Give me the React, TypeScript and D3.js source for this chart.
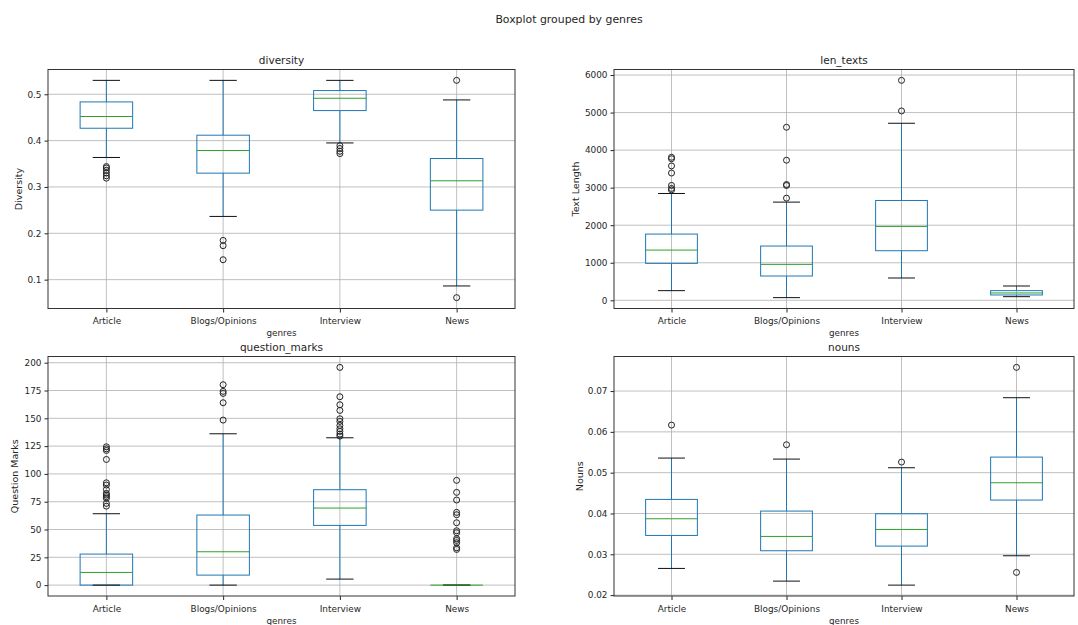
import * as d3 from "d3";
import { useEffect, useRef } from "react";

const genres = ["Article", "Blogs/Opinions", "Interview", "News"];

// per genre: [low whisker, q1, median, q3, high whisker]
const diversityStats = [
  [0.3636, 0.4267, 0.452, 0.4835, 0.53],
  [0.2364, 0.3298, 0.3786, 0.4117, 0.53],
  [0.395, 0.4648, 0.4914, 0.508, 0.53],
  [0.0864, 0.25, 0.3133, 0.3614, 0.4878],
];
const diversityFliers = [
  [0.344, 0.341, 0.336, 0.33, 0.324, 0.319],
  [0.1847, 0.1733, 0.143],
  [0.389, 0.383, 0.377, 0.372],
  [0.53, 0.0612],
];
const diversityTicks = [0.1, 0.2, 0.3, 0.4, 0.5];

const lenStats = [
  [257, 984, 1338, 1764, 2845],
  [71, 647, 957, 1445, 2615],
  [594, 1321, 1968, 2659, 4715],
  [97, 142, 195, 257, 381],
];
const lenFliers = [
  [3810, 3770, 3580, 3390, 3060, 2980, 2940],
  [4609, 3731, 3084, 3058, 2721],
  [5043, 5858],
  [],
];
const lenTicks = [0, 1000, 2000, 3000, 4000, 5000, 6000];

const qmStats = [
  [0, 0, 11.4, 27.9, 64.2],
  [0, 9.0, 30.0, 63.0, 136.1],
  [5.4, 53.7, 69.3, 85.8, 132.5],
  [0, 0, 0, 0, 0],
];
const qmFliers = [
  [124.4, 122.6, 121.1, 113, 92, 90, 86, 82.5, 81, 79.5, 78, 73.5, 71],
  [180.2, 174.2, 172.4, 164.0, 148.4],
  [195.8, 169.4, 162.2, 157.1, 149.6, 147.2, 143.6, 140.6, 138.2, 135.8, 134],
  [94.2, 83.4, 76.5, 65.4, 63.3, 56.1, 48.9, 47.1, 41.7, 40.2, 38.1, 33.6, 32.1],
];
const qmTicks = [0, 25, 50, 75, 100, 125, 150, 175, 200];

const nounStats = [
  [0.02654, 0.03462, 0.03871, 0.04345, 0.05358],
  [0.02343, 0.03087, 0.03438, 0.04059, 0.05333],
  [0.02245, 0.03201, 0.03609, 0.03993, 0.05121],
  [0.02964, 0.04329, 0.04753, 0.05382, 0.06837],
];
const nounFliers = [[0.06167], [0.05685], [0.0526], [0.0758, 0.02556]];
const nounTicks = [0.02, 0.03, 0.04, 0.05, 0.06, 0.07];

const FONT = "DejaVu Sans, sans-serif";
const TEXT = "#262626";

const panels = [
  { title: "diversity", ylabel: "Diversity", stats: diversityStats, fliers: diversityFliers, ticks: diversityTicks, fmt: d3.format(".1f"), x0: 48, x1: 515, y0: 69.5, y1: 308.5, ylx: 19 },
  { title: "len_texts", ylabel: "Text Length", stats: lenStats, fliers: lenFliers, ticks: lenTicks, fmt: d3.format("d"), x0: 614, x1: 1074, y0: 69.5, y1: 308.5, ylx: 576 },
  { title: "question_marks", ylabel: "Question Marks", stats: qmStats, fliers: qmFliers, ticks: qmTicks, fmt: d3.format("d"), x0: 48, x1: 515, y0: 356.5, y1: 596, ylx: 15 },
  { title: "nouns", ylabel: "Nouns", stats: nounStats, fliers: nounFliers, ticks: nounTicks, fmt: d3.format(".2f"), x0: 614, x1: 1074, y0: 356.5, y1: 596, ylx: 580 },
];

const App = () => {
  const ref = useRef<SVGSVGElement>(null);

  useEffect(() => {
    const svg = d3.select(ref.current);
    svg.selectAll("*").remove();

    svg.append("text")
      .attr("x", 569).attr("y", 23)
      .attr("text-anchor", "middle")
      .attr("font-family", FONT).attr("font-size", 10.9).attr("fill", TEXT)
      .text("Boxplot grouped by genres");

    panels.forEach(p => {
      const all = p.stats.flat().concat(p.fliers.flat());
      const lo = d3.min(all) as number;
      const hi = d3.max(all) as number;
      const pad = (hi - lo) * 0.05;

      const x = d3.scalePoint<string>().domain(genres).range([p.x0, p.x1]).padding(0.5);
      const y = d3.scaleLinear().domain([lo - pad, hi + pad]).range([p.y1, p.y0]);
      const g = svg.append("g");

      // grid
      g.selectAll(".hgrid").data(p.ticks).enter().append("line")
        .attr("x1", p.x0).attr("x2", p.x1)
        .attr("y1", d => y(d)).attr("y2", d => y(d))
        .attr("stroke", "#b0b0b0").attr("stroke-width", 0.8);
      g.selectAll(".vgrid").data(genres).enter().append("line")
        .attr("x1", d => x(d)!).attr("x2", d => x(d)!)
        .attr("y1", p.y0).attr("y2", p.y1)
        .attr("stroke", "#b0b0b0").attr("stroke-width", 0.8);

      // axes
      const ya = g.append("g").attr("transform", `translate(${p.x0},0)`)
        .call(d3.axisLeft(y).tickValues(p.ticks).tickSize(3.5).tickPadding(3).tickFormat(d => p.fmt(d as number)));
      const xa = g.append("g").attr("transform", `translate(0,${p.y1})`)
        .call(d3.axisBottom(x).tickSize(4).tickPadding(5.3));
      [ya, xa].forEach(a => {
        a.select(".domain").remove();
        a.selectAll("text").attr("font-family", FONT).attr("font-size", 8.9).attr("fill", TEXT);
        a.selectAll("line").attr("stroke", TEXT);
      });

      // boxes
      const bw = x.step() * 0.45;
      const cw = bw * 0.52;
      genres.forEach((gn, i) => {
        const cx = x(gn)!;
        const [wl, q1, med, q3, wh] = p.stats[i];
        const blue = "#1f77b4";
        g.append("line").attr("x1", cx).attr("x2", cx).attr("y1", y(wl)).attr("y2", y(q1)).attr("stroke", blue);
        g.append("line").attr("x1", cx).attr("x2", cx).attr("y1", y(q3)).attr("y2", y(wh)).attr("stroke", blue);
        g.append("rect")
          .attr("x", cx - bw / 2).attr("width", bw)
          .attr("y", y(q3)).attr("height", y(q1) - y(q3))
          .attr("fill", "none").attr("stroke", blue);
        [wl, wh].forEach(v => {
          g.append("line").attr("x1", cx - cw / 2).attr("x2", cx + cw / 2)
            .attr("y1", y(v)).attr("y2", y(v)).attr("stroke", "#111");
        });
        g.append("line").attr("x1", cx - bw / 2).attr("x2", cx + bw / 2)
          .attr("y1", y(med)).attr("y2", y(med)).attr("stroke", "#2ca02c");
        g.selectAll(null).data(p.fliers[i]).enter().append("circle")
          .attr("cx", cx).attr("cy", d => y(d)).attr("r", 3)
          .attr("fill", "none").attr("stroke", "#222").attr("stroke-width", 1);
      });

      // frame
      g.append("rect")
        .attr("x", p.x0).attr("y", p.y0)
        .attr("width", p.x1 - p.x0).attr("height", p.y1 - p.y0)
        .attr("fill", "none").attr("stroke", "#333").attr("stroke-width", 1);

      // labels
      g.append("text")
        .attr("x", (p.x0 + p.x1) / 2).attr("y", p.y0 - 6)
        .attr("text-anchor", "middle")
        .attr("font-family", FONT).attr("font-size", 10.5).attr("fill", TEXT)
        .text(p.title);
      g.append("text")
        .attr("x", (p.x0 + p.x1) / 2).attr("y", p.y1 + 27.5)
        .attr("text-anchor", "middle")
        .attr("font-family", FONT).attr("font-size", 8.8).attr("fill", TEXT)
        .text("genres");
      g.append("text")
        .attr("transform", `translate(${p.ylx},${(p.y0 + p.y1) / 2}) rotate(-90)`)
        .attr("text-anchor", "middle").attr("dy", "0.35em")
        .attr("font-family", FONT).attr("font-size", 9.5).attr("fill", TEXT)
        .text(p.ylabel);
    });
  }, []);

  return (
    <svg ref={ref} width={1078} height={625}
      style={{ position: "absolute", left: 0, top: 0, background: "#fff" }} />
  );
};

export default App;
